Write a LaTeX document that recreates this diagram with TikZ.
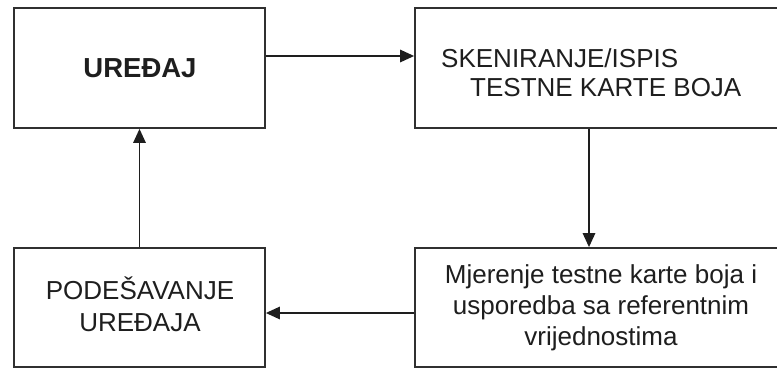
\documentclass[tikz,border=0pt]{standalone}
\usepackage{fontspec}
\setmainfont{Liberation Sans}
\newfontfamily\lab{Liberation Sans}
\usetikzlibrary{arrows.meta}
\definecolor{ink}{HTML}{1E1E1E}
\definecolor{edge}{HTML}{303030}
\tikzset{
  blk/.style={draw=edge, line width=1.8pt, fill=white, inner sep=0pt, minimum height=120pt},
  txt/.style={text=ink, inner sep=0pt, anchor=base, font=\lab\fontsize{26}{31}\selectfont},
  arr/.style={draw=ink, line width=1.5pt, -{Triangle[length=14pt,width=12.5pt]}}
}
\begin{document}
\begin{tikzpicture}[x=1pt,y=-1pt]
\useasboundingbox (0,0) rectangle (777,370);
\clip (0,0) rectangle (777,370);
\fill[white] (0,0) rectangle (777,370);
\node[blk, minimum width=251pt] (A) at (139.5,68) {};
\node[blk, minimum width=375pt, minimum height=120pt] (B) at (602.5,68) {};
\node[blk, minimum width=251pt, minimum height=119pt] (C) at (139.5,307.5) {};
\node[blk, minimum width=375pt, minimum height=119pt] (D) at (602.5,307.5) {};
\node[txt, font=\lab\bfseries\fontsize{27.5}{31}\selectfont] (tA) at (140,77) {UREĐAJ};
\node[txt, anchor=base west] (tB1) at (441,67) {SKENIRANJE/ISPIS};
\node[txt, anchor=base west] (tB2) at (470,96) {TESTNE KARTE BOJA};
\node[txt] (tC1) at (140,299) {PODEŠAVANJE};
\node[txt] (tC2) at (140,331) {UREĐAJA};
\node[txt] (tD1) at (601,283) {Mjerenje testne karte boja i};
\node[txt] (tD2) at (601,314) {usporedba sa referentnim};
\node[txt] (tD3) at (601,345) {vrijednostima};
\draw[arr] (A.east |- 0,56) -- (B.west |- 0,56);
\draw[arr] (B.south -| 589,0) -- (D.north -| 589,0);
\draw[arr] (D.west |- 0,313) -- (C.east |- 0,313);
\draw[arr] (C.north) -- (A.south);
\end{tikzpicture}
\end{document}
